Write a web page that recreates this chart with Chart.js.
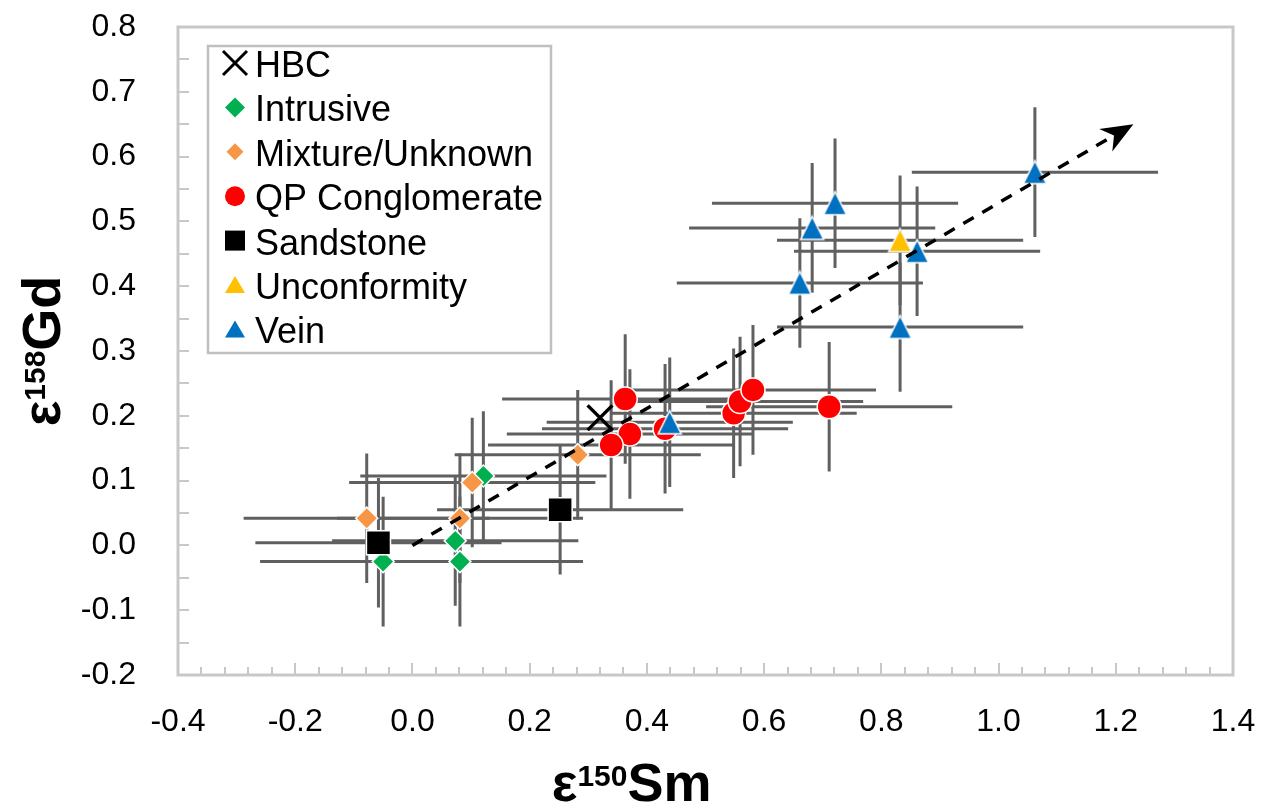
<!DOCTYPE html>
<html><head><meta charset="utf-8">
<script src="https://cdn.jsdelivr.net/npm/chart.js@4/dist/chart.umd.min.js"></script>
<style>html,body{margin:0;padding:0;background:#fff;overflow:hidden}#wrap{width:1276px;height:806px}</style>
</head><body><div id="wrap"><canvas id="c" width="1276" height="806"></canvas></div>
<script>
// ---------- data ----------
const seriesNames = ['HBC','Intrusive','Mixture/Unknown','QP Conglomerate','Sandstone','Unconformity','Vein'];
const hbcX = [0.320];
const hbcY = [0.197];
const intrusiveX = [-0.050, 0.073, 0.081, 0.121];
const intrusiveY = [-0.025, 0.007, -0.025, 0.107];
const mixtureX = [-0.078, 0.081, 0.102, 0.282];
const mixtureY = [0.042, 0.042, 0.097, 0.140];
const qpX = [0.363, 0.371, 0.339, 0.431, 0.548, 0.559, 0.581, 0.711];
const qpY = [0.226, 0.172, 0.155, 0.180, 0.204, 0.222, 0.240, 0.214];
const sandstoneX = [-0.058, 0.252];
const sandstoneY = [0.004, 0.055];
const unconformityX = [0.832];
const unconformityY = [0.471];
const veinX = [0.439, 0.721, 0.682, 0.861, 0.661, 0.832, 1.062];
const veinY = [0.190, 0.528, 0.490, 0.454, 0.405, 0.337, 0.576];
// symmetric error per series (x, y); HBC has none
const errX = [0, 0.21, 0.21, 0.21, 0.21, 0.21, 0.21];
const errY = [0, 0.10, 0.10, 0.10, 0.10, 0.10, 0.10];
// trend arrow (data coordinates)
const arrowFrom = [0.0, 0.0];
const arrowTo = [1.23, 0.65];
const xTickValues = [-0.4,-0.2,0.0,0.2,0.4,0.6,0.8,1.0,1.2,1.4];
const xTickLabels = ['-0.4','-0.2','0.0','0.2','0.4','0.6','0.8','1.0','1.2','1.4'];
const yTickValues = [-0.2,-0.1,0.0,0.1,0.2,0.3,0.4,0.5,0.6,0.7,0.8];
const yTickLabels = ['-0.2','-0.1','0.0','0.1','0.2','0.3','0.4','0.5','0.6','0.7','0.8'];

// ---------- styles ----------
const FONT = '"Liberation Sans", Arial, sans-serif';
const colors = ['#000000','#00b050','#f79646','#ff0000','#000000','#ffc000','#0070c0'];

function triImg(fill, w, h) {
  const c = document.createElement('canvas');
  c.width = w + 4; c.height = h + 4;
  const g = c.getContext('2d');
  g.beginPath();
  g.moveTo(c.width / 2, 2);
  g.lineTo(c.width - 2, c.height - 2);
  g.lineTo(2, c.height - 2);
  g.closePath();
  g.fillStyle = fill; g.fill();
  g.strokeStyle = '#ffffff'; g.lineWidth = 1.5; g.stroke();
  return c;
}
const triYellow = triImg('#ffc000', 23, 23);
const triBlue = triImg('#0070c0', 23, 23);

function pts(xs, ys) { return xs.map((x, i) => ({x: x, y: ys[i]})); }
const allX = [hbcX, intrusiveX, mixtureX, qpX, sandstoneX, unconformityX, veinX];
const allY = [hbcY, intrusiveY, mixtureY, qpY, sandstoneY, unconformityY, veinY];

const pointStyles = ['crossRot','rectRot','rectRot','circle','rect',triYellow,triBlue];
const radii = [17.5, 11, 11, 12, 17, 12, 12];

const datasets = seriesNames.map((name, i) => ({
  label: name,
  data: pts(allX[i], allY[i]),
  pointStyle: pointStyles[i],
  pointRadius: radii[i],
  pointHoverRadius: radii[i],
  backgroundColor: colors[i],
  borderColor: i === 0 ? '#000000' : '#ffffff',
  borderWidth: i === 0 ? 3.5 : 1.5,
  order: 10 - i
}));

// ---------- custom drawing ----------
function drawMarker(ctx, i, x, y) {
  ctx.save();
  ctx.fillStyle = colors[i];
  ctx.beginPath();
  if (i === 0) {
    ctx.strokeStyle = '#000'; ctx.lineWidth = 3;
    ctx.moveTo(x - 12, y - 12); ctx.lineTo(x + 12, y + 12);
    ctx.moveTo(x + 12, y - 12); ctx.lineTo(x - 12, y + 12);
    ctx.stroke();
  } else if (i === 1 || i === 2) {
    const r = i === 1 ? 10 : 8.5;
    ctx.moveTo(x, y - r); ctx.lineTo(x + r, y); ctx.lineTo(x, y + r); ctx.lineTo(x - r, y); ctx.closePath(); ctx.fill();
  } else if (i === 3) {
    ctx.arc(x, y, 10, 0, Math.PI * 2); ctx.fill();
  } else if (i === 4) {
    ctx.rect(x - 10, y - 10, 20, 20); ctx.fill();
  } else {
    ctx.moveTo(x, y - 9); ctx.lineTo(x + 10, y + 8); ctx.lineTo(x - 10, y + 8); ctx.closePath(); ctx.fill();
  }
  ctx.restore();
}

const customPlugin = {
  id: 'custom',
  beforeDatasetsDraw(chart) {
    const ctx = chart.ctx, a = chart.chartArea, xs = chart.scales.x, ys = chart.scales.y;
    ctx.save();
    // frame
    ctx.strokeStyle = '#c8c8c8'; ctx.lineWidth = 3;
    ctx.strokeRect(a.left, a.top, a.right - a.left, a.bottom - a.top);
    // inward ticks
    ctx.lineWidth = 2;
    for (let k = 0; k <= 20; k++) {
      const py = Math.round(ys.getPixelForValue(-0.2 + k * 0.05));
      ctx.beginPath(); ctx.moveTo(a.left, py); ctx.lineTo(a.left + 11, py); ctx.stroke();
    }
    for (let k = 0; k <= 45; k++) {
      const px = Math.round(xs.getPixelForValue(-0.4 + k * 0.04));
      const len = (k % 5 === 0) ? 12 : 8;
      ctx.beginPath(); ctx.moveTo(px, a.bottom); ctx.lineTo(px, a.bottom - len); ctx.stroke();
    }
    // error bars
    ctx.strokeStyle = '#606060'; ctx.lineWidth = 3;
    for (let i = 0; i < seriesNames.length; i++) {
      if (!errX[i] && !errY[i]) continue;
      allX[i].forEach((xv, j) => {
        const yv = allY[i][j];
        const cx = xs.getPixelForValue(xv), cy = ys.getPixelForValue(yv);
        ctx.beginPath();
        ctx.moveTo(xs.getPixelForValue(xv - errX[i]), cy);
        ctx.lineTo(xs.getPixelForValue(xv + errX[i]), cy);
        ctx.moveTo(cx, ys.getPixelForValue(yv - errY[i]));
        ctx.lineTo(cx, ys.getPixelForValue(yv + errY[i]));
        ctx.stroke();
      });
    }
    ctx.restore();
  },
  afterDatasetsDraw(chart) {
    const ctx = chart.ctx, xs = chart.scales.x, ys = chart.scales.y;
    const x0 = xs.getPixelForValue(arrowFrom[0]), y0 = ys.getPixelForValue(arrowFrom[1]);
    const x1 = xs.getPixelForValue(arrowTo[0]), y1 = ys.getPixelForValue(arrowTo[1]);
    const ang = Math.atan2(y1 - y0, x1 - x0);
    const headL = 32, headW = 13;
    const bx = x1 - Math.cos(ang) * headL, by = y1 - Math.sin(ang) * headL;
    ctx.save();
    ctx.strokeStyle = '#000'; ctx.lineWidth = 3.5; ctx.setLineDash([12, 10]);
    ctx.beginPath(); ctx.moveTo(x0, y0); ctx.lineTo(bx + Math.cos(ang) * 8, by + Math.sin(ang) * 8); ctx.stroke();
    ctx.setLineDash([]);
    ctx.fillStyle = '#000';
    ctx.beginPath();
    ctx.moveTo(x1, y1);
    ctx.lineTo(bx - Math.sin(ang) * headW, by + Math.cos(ang) * headW);
    ctx.lineTo(x1 - Math.cos(ang) * headL * 0.7, y1 - Math.sin(ang) * headL * 0.7);
    ctx.lineTo(bx + Math.sin(ang) * headW, by - Math.cos(ang) * headW);
    ctx.closePath(); ctx.fill();
    ctx.restore();
  },
  afterDraw(chart) {
    const ctx = chart.ctx, a = chart.chartArea;
    ctx.save();
    // legend box
    const lx = 208, ly = 46, lw = 343, lh = 307;
    ctx.strokeStyle = '#bfbfbf'; ctx.lineWidth = 2.5;
    ctx.strokeRect(lx, ly, lw, lh);
    ctx.textBaseline = 'alphabetic'; ctx.textAlign = 'left';
    seriesNames.forEach((n, i) => {
      const cy = ly + 17 + i * 44.4;
      drawMarker(ctx, i, lx + 27, cy);
      ctx.fillStyle = '#000';
      ctx.font = '36px ' + FONT;
      ctx.fillText(n, lx + 47, cy + 14);
    });
    // axis titles with superscripts
    function title(parts) {
      let w = 0;
      parts.forEach(p => { ctx.font = p.f; w += ctx.measureText(p.t).width; });
      let x = -w / 2;
      parts.forEach(p => { ctx.font = p.f; ctx.fillText(p.t, x, p.dy); x += ctx.measureText(p.t).width; });
    }
    const big = 'bold 54px ' + FONT, sup = 'bold 30px ' + FONT;
    ctx.fillStyle = '#000';
    ctx.save();
    ctx.translate(a.left + (a.right - a.left) * 0.43, 801);
    title([{t: 'ε', f: big, dy: 0}, {t: '150', f: sup, dy: -15}, {t: 'Sm', f: big, dy: 0}]);
    ctx.restore();
    ctx.save();
    ctx.translate(60, (a.top + a.bottom) / 2);
    ctx.rotate(-Math.PI / 2);
    title([{t: 'ε', f: big, dy: 0}, {t: '158', f: sup, dy: -15}, {t: 'Gd', f: big, dy: 0}]);
    ctx.restore();
    ctx.restore();
  }
};

const chart = new Chart(document.getElementById('c'), {
  type: 'scatter',
  data: { datasets: datasets },
  options: {
    responsive: false,
    animation: false,
    devicePixelRatio: 1,
    layout: { autoPadding: false, padding: { left: 0, top: 27, right: 43, bottom: 0 } },
    plugins: { legend: { display: false }, tooltip: { enabled: false } },
    scales: {
      x: {
        type: 'linear', min: -0.4, max: 1.4,
        afterBuildTicks: s => { s.ticks = xTickValues.map(v => ({value: v})); },
        afterFit: s => { s.height = 131; s.paddingLeft = 0; s.paddingRight = 0; s.paddingTop = 0; s.paddingBottom = 0; },
        grid: { display: false }, border: { display: false },
        ticks: { padding: 20, color: '#000', font: { family: FONT, size: 32 }, callback: (v, i) => xTickLabels[i], maxRotation: 0, autoSkip: false }
      },
      y: {
        type: 'linear', min: -0.2, max: 0.8,
        afterBuildTicks: s => { s.ticks = yTickValues.map(v => ({value: v})); },
        afterFit: s => { s.width = 178; s.paddingTop = 0; s.paddingBottom = 0; s.paddingLeft = 0; s.paddingRight = 0; },
        grid: { display: false }, border: { display: false },
        ticks: { padding: 34, color: '#000', font: { family: FONT, size: 32 }, callback: (v, i) => yTickLabels[i], autoSkip: false }
      }
    }
  },
  plugins: [customPlugin]
});

// fit plot area to the reference frame (left 178, top 27, right 1233, bottom 675)
for (let pass = 0; pass < 2; pass++) {
  const ca = chart.chartArea, p = chart.options.layout.padding;
  const dt = 27 - ca.top, dr = ca.right - 1233, db = ca.bottom - 675;
  if (Math.abs(dt) < 0.5 && Math.abs(dr) < 0.5 && Math.abs(db) < 0.5) break;
  p.top += dt; p.right += dr; p.bottom += db;
  chart.update();
}
</script>
</body></html>
